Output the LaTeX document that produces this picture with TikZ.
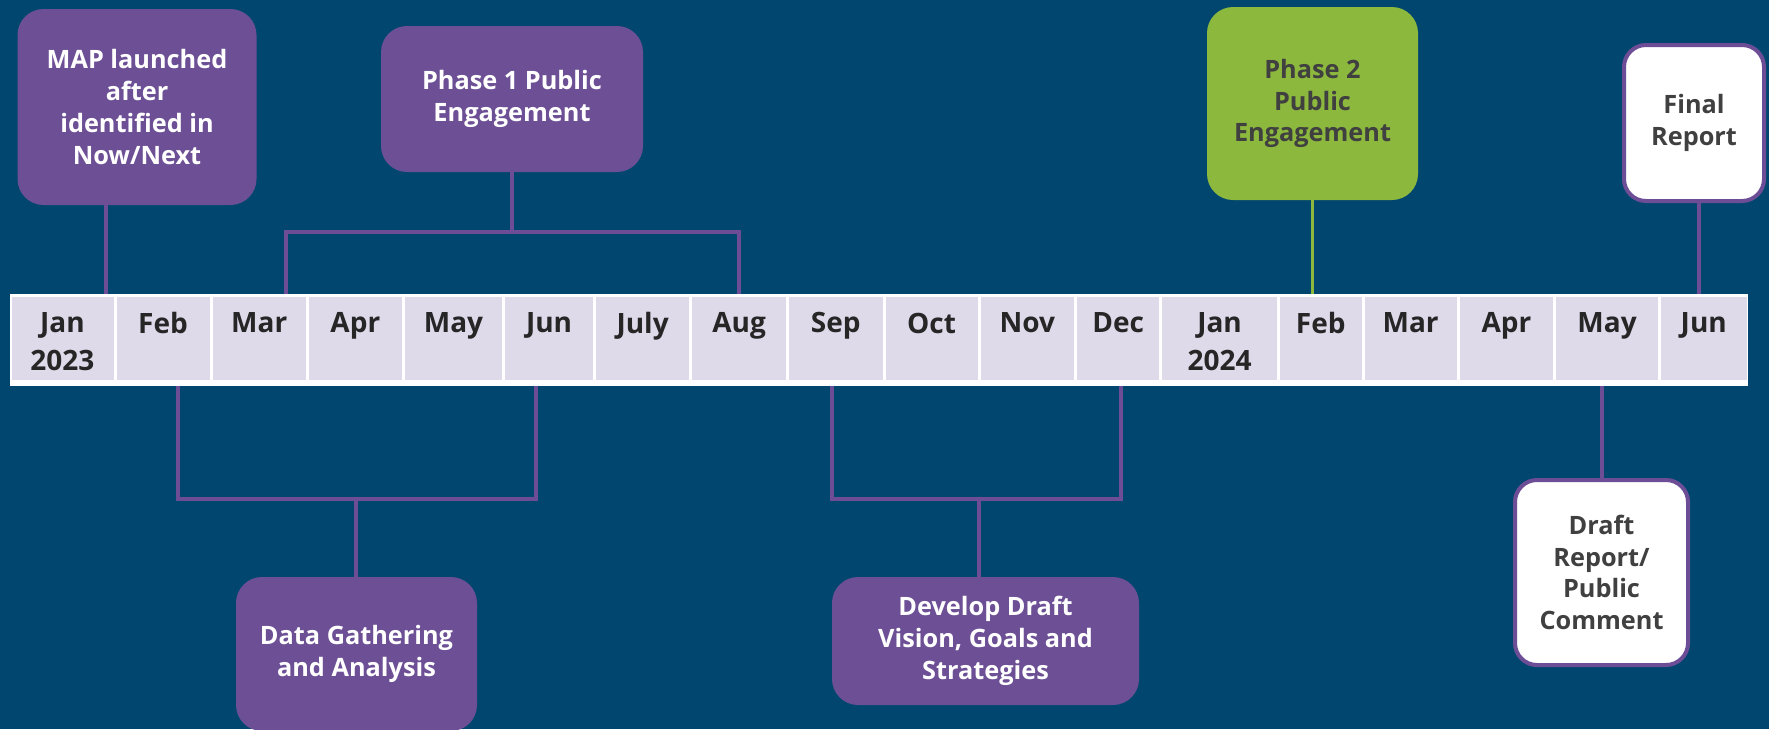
\documentclass[tikz,border=0pt]{standalone}
\usepackage{fontspec}
\usetikzlibrary{calc}
\setmainfont{Open Sans}
\definecolor{bgblue}{HTML}{00466E}
\definecolor{mpurple}{HTML}{6C4F95}
\definecolor{mline}{HTML}{6D4E96}
\definecolor{mgreen}{HTML}{8CB83E}
\definecolor{lav}{HTML}{DFDAEA}
\definecolor{dtext}{HTML}{262626}
\definecolor{gtext}{HTML}{404040}
\begin{document}
\begin{tikzpicture}[x=1pt,y=-1pt,
  cell/.style={fill=lav,draw=none,inner sep=0pt,anchor=north west},
  month/.style={anchor=north,align=center,inner sep=0pt,text=dtext,
    font=\fontsize{28}{37.5}\selectfont\bfseries},
  box/.style={rounded corners=26pt,inner sep=0pt,align=center,
    font=\fontsize{25.3}{31.7}\selectfont\bfseries},
  pbox/.style={box,fill=mpurple,text=white},
  gbox/.style={box,fill=mgreen,text=gtext},
  wbox/.style={box,fill=white,draw=mline,line width=4pt,text=gtext,rounded corners=22pt},
  conn/.style={draw=mline,line width=3.5pt},
  gconn/.style={draw=mgreen,line width=3.5pt}]
\fill[bgblue] (0,0) rectangle (1769,729);
\useasboundingbox (0,0) rectangle (1769,729);
\clip (0,0) rectangle (1769,729);
% timeline
\node[fill=white,inner sep=0pt,minimum width=1738pt,minimum height=92pt,anchor=north west] (tl) at (10,294) {};
\def\cells{10/114.8/Jan\\2023/m1,114.8/211.3/Feb/m2,211.3/307.1/Mar/m3,307.1/403.6/Apr/m4,403.6/503.4/May/m5,503.4/594.7/Jun/m6,594.7/690.6/July/m7,690.6/787.6/Aug/m8,787.6/884/Sep/m9,884/979.2/Oct/m10,979.2/1075.6/Nov/m11,1075.6/1160.6/Dec/m12,1160.6/1278.5/Jan\\2024/m13,1278.5/1363/Feb/m14,1363/1458.2/Mar/m15,1458.2/1554.6/Apr/m16,1554.6/1659.5/May/m17,1659.5/1748/Jun/m18}
\foreach \a/\b/\t/\n in \cells {
  \pgfmathsetmacro{\w}{\b-\a-3}
  \node[cell,minimum width=\w pt,minimum height=83pt] (\n) at (\a+1.5,297) {};
  \node[month] (\n l) at ($(\a,312.5)!0.5!(\b,312.5)$) {\t};
}
% top boxes
\node[pbox,minimum width=239pt,minimum height=196pt] (map) at (137,107) {MAP launched\\after\\identified in\\Now/Next};
\node[pbox,minimum width=262pt,minimum height=146pt] (ph1) at (512,99) {Phase 1 Public\\Engagement};
\node[gbox,minimum width=211pt,minimum height=193pt] (ph2) at (1312.5,103.5) {Phase 2\\Public\\Engagement};
\node[wbox,minimum width=140pt,minimum height=156pt] (fin) at (1694,123) {Final\\Report};
% bottom boxes
\node[pbox,minimum width=241pt,minimum height=154pt] (data) at (356.5,654) {Data Gathering\\and Analysis};
\node[pbox,minimum width=307pt,minimum height=128pt] (dev) at (985.5,641) {Develop Draft\\Vision, Goals and\\Strategies};
\node[wbox,minimum width=173pt,minimum height=185pt] (draft) at (1601.5,572.5) {Draft\\Report/\\Public\\Comment};
% connector coordinates on timeline
\coordinate (tJan) at (106,294);
\coordinate (tMar) at (286,294);
\coordinate (tAug) at (739,294);
\coordinate (tFeb2) at (1312.5,294);
\coordinate (tJun2) at (1699,294);
\coordinate (bFeb) at (178,386);
\coordinate (bJun) at (536,386);
\coordinate (bSep) at (832,386);
\coordinate (bDec) at (1121,386);
\coordinate (bMay) at (1602,386);
\coordinate (ph1j) at (512,232);
\coordinate (dataj) at (356,499);
\coordinate (devj) at (979,499);
% connectors
\draw[conn] (tJan |- map.south) -- (tJan);
\draw[conn] (ph1.south) -- (ph1j);
\draw[conn,line join=miter] (tMar) -- (tMar |- ph1j) -- (tAug |- ph1j) -- (tAug);
\draw[gconn] (ph2.south) -- (tFeb2);
\draw[conn] (tJun2 |- fin.south) -- (tJun2);
\draw[conn,line join=miter] (bFeb) -- (bFeb |- dataj) -- (bJun |- dataj) -- (bJun);
\draw[conn] (dataj) -- (dataj |- data.north);
\draw[conn,line join=miter] (bSep) -- (bSep |- devj) -- (bDec |- devj) -- (bDec);
\draw[conn] (devj) -- (devj |- dev.north);
\draw[conn] (bMay) -- (bMay |- draft.north);
\end{tikzpicture}
\end{document}
